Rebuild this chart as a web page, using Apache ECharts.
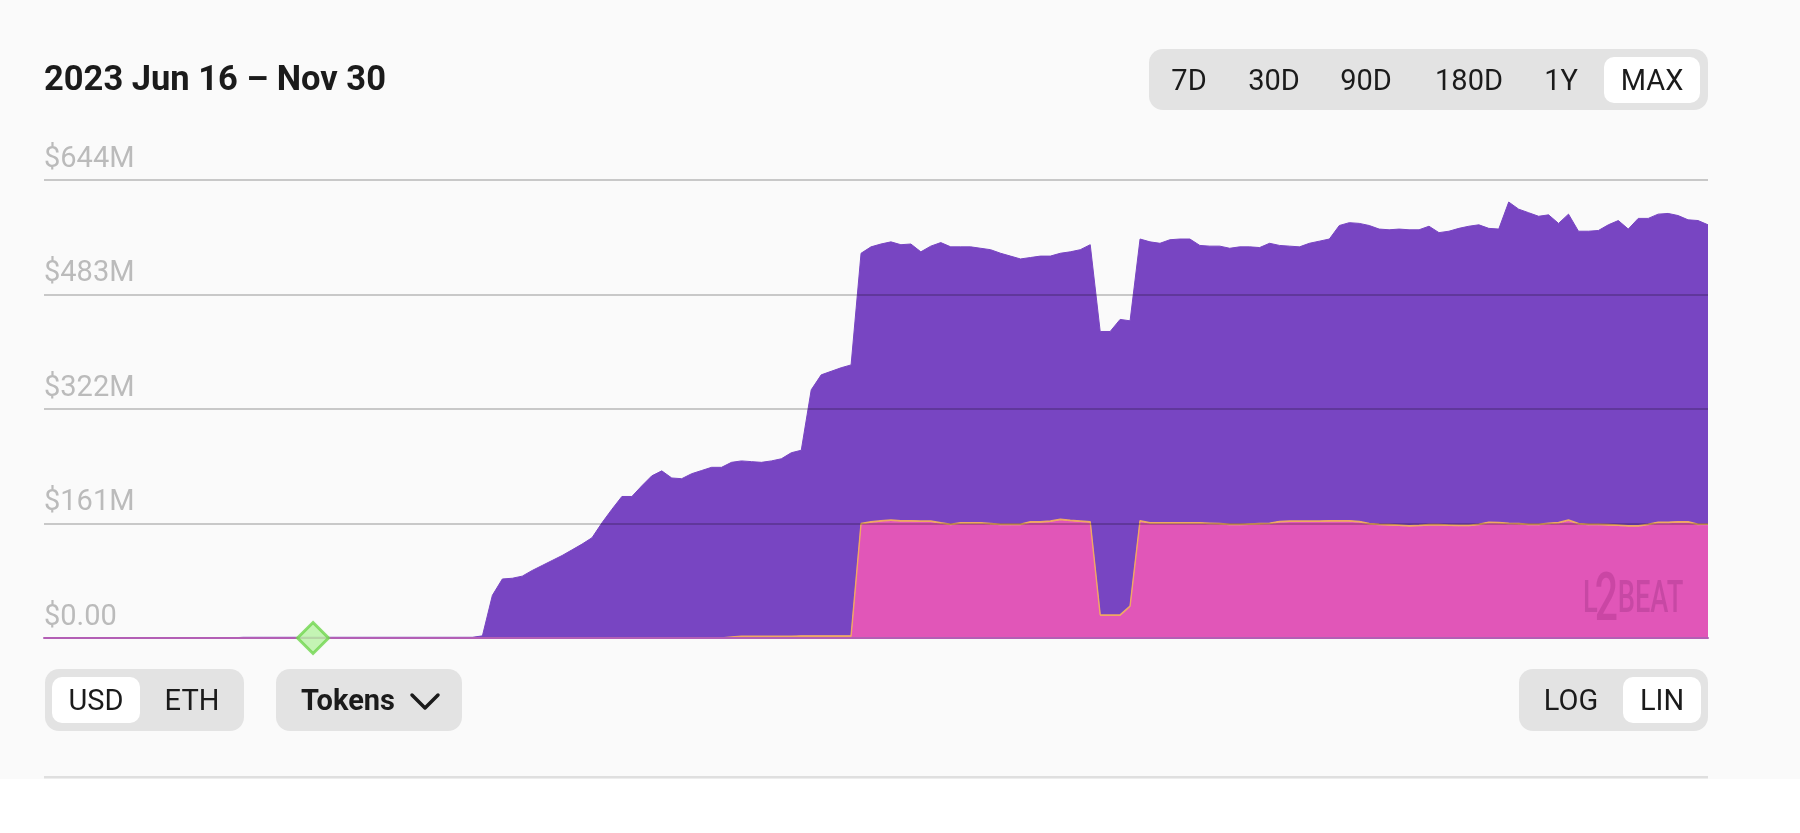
<!DOCTYPE html>
<html>
<head>
<meta charset="utf-8">
<script src="https://cdn.jsdelivr.net/npm/echarts@6/dist/echarts.min.js"></script>
<style>
  html, body { margin: 0; padding: 0; background: #ffffff; }
  #chart { width: 1800px; height: 833px; }
</style>
</head>
<body>
<div id="chart"></div>
<script>
// ---------- data (values in millions of USD, one point per day) ----------
const startDate = '2023-06-16';
const dayCount = 168; // 2023 Jun 16 – Nov 30

const yTickLabels = ['$0.00', '$161M', '$322M', '$483M', '$644M'];

// bottom layer (pink)
const nativeM = [
  0,0,0,0,0,0,0,0,0,0,0,0,0,0,
  0,0,0,0,0,0,0,0,0,0,0,0,0,0,
  0,0,0,0,0,0,0,0,0,0,0,0,0,0,
  0,0,0,0,0,0,0,0,0,0,0,0,0,0,
  0,0,0,0,0,0,0,0,0,0,0,0,0,0,
  0,0,0,0,0,0,0,0,0,0,0,0,
  159.5,162,163.5,164.5,163.5,163.5,163,163,160.5,158.5,160.5,160.5,160.5,159.5,
  158.5,158.5,158.5,162,162,163,165.5,164,163,162,31,31,31,43.5,
  163.5,160.5,160.5,160.5,160.5,160.5,160.5,160,159.5,158.5,158.5,159,159.5,160,
  162.5,163,163,163,163,163.5,163.5,163.5,162.5,159.5,158.5,158,157.5,156.5,
  157,158,158,157.5,157,157,158.5,161.5,161,160,159.5,158.5,158.5,160,
  161,164.5,159.5,158.5,158.5,158,157.5,156.5,156.5,158.5,161.5,161.5,162,162,
  158.5,158.5
];

// thin middle layer (orange)
const externalM = [
  0,0,0,0,0,0,0,0,0,0,0,0,0,0,
  0,0,0,0,0,0,0,0,0,0,0,0,0,0,
  0,0,0,0,0,0,0,0,0,0,0,0,0,0,
  0,0,0,0,0,0,0,0,0,0,0,0,0,0,
  0,0,0,0,0,0,0,0,0,0,0,0,0,1.5,
  2.5,2.5,2.5,2.5,2.5,2.5,3,3,3,3,3,3,
  1.5,1.5,1.5,1.5,1.5,1.5,1.5,1.5,1.5,1.5,1.5,1.5,1.5,1.5,
  1.5,1.5,1.5,1.5,1.5,1.5,1.5,1.5,1.5,1.5,1.5,1.5,1.5,1.5,
  1.5,1.5,1.5,1.5,1.5,1.5,1.5,1.5,1.5,1.5,1.5,1.5,1.5,1.5,
  1.5,1.5,1.5,1.5,1.5,1.5,1.5,1.5,1.5,1.5,1.5,1.5,1.5,1.5,
  1.5,1.5,1.5,1.5,1.5,1.5,1.5,1.5,1.5,1.5,1.5,1.5,1.5,1.5,
  1.5,1.5,1.5,1.5,1.5,1.5,1.5,1.5,1.5,1.5,1.5,1.5,1.5,1.5,
  1.5,1.5
];

// top layer (purple)
const canonicalM = [
  0.3,0.3,0.3,0.3,0.3,0.3,0.3,0.3,0.3,0.3,0.3,0.3,0.3,0.3,
  0.3,0.3,0.3,0.3,0.3,0.3,1,1,1,1,1,1,1,1,
  1,1,1,1,1,1,1,1,1,1,1,1,1,1,
  1,1,3,60,83,84,87,95,102,109,116,124,132,141,
  162,181,199,199,214,228,235,225,224,231,235.5,240,240,245.5,
  246.5,245.5,244.5,246.5,249.5,258,261,346,367,372,377,381,
  380,386.5,389,391,388,389,378.5,386.5,394,390,388,388,386,385,
  381,377,373,371.5,373.5,372.5,374,377.5,381.5,389.5,398.5,398.5,415.5,401,
  396,395,393,398,399,399,390,389.5,390,388,390,389.5,388,393.5,
  388,386.5,385.5,390.5,393.5,396,415,419,419,419,415,414.5,416,416,
  415.5,419.5,410.5,413,417.5,420.5,421,413,412.5,451.5,442,438,433,433.5,
  420.5,430,411,412,413,421.5,428,417,432,430,433,434,430.5,424.5,
  427,421
];

const milestoneDates = ['2023-07-13'];

// ---------- categories ----------
const categories = [];
(function () {
  const p = startDate.split('-').map(Number);
  for (let i = 0; i < dayCount; i++) {
    const d = new Date(Date.UTC(p[0], p[1] - 1, p[2] + i));
    categories.push(d.toISOString().slice(0, 10));
  }
})();

// ---------- styles ----------
const PURPLE = '#7845C2';
const PINK = '#E156B8';
const ORANGE = '#F0A862';
const FONT = 'Roboto, "Noto Sans", sans-serif';
const TXT = '#1B1B1B';
const BTN_BG = '#E3E3E3';

function btnText(x, y, t, bold) {
  return {
    type: 'text', x: x, y: y, z: 20,
    style: { text: t, font: (bold ? 'bold ' : '') + '29px ' + FONT, fill: TXT,
             textAlign: 'center', textVerticalAlign: 'middle' }
  };
}

const chart = echarts.init(document.getElementById('chart'), null, { renderer: 'canvas' });

const option = {
  backgroundColor: '#FAFAFA',
  animation: false,
  grid: { left: 44, right: 92, top: 180, bottom: 195, containLabel: false },
  xAxis: {
    type: 'category',
    data: categories,
    boundaryGap: false,
    z: 6,
    axisLine: { show: true, lineStyle: { color: '#B35FB5', width: 2 } },
    axisTick: { show: false },
    axisLabel: { show: false },
    splitLine: { show: false }
  },
  yAxis: {
    type: 'value',
    min: 0, max: 644, interval: 161,
    z: 5,
    axisLine: { show: false },
    axisTick: { show: false },
    splitLine: { show: true, lineStyle: { color: 'rgba(0,0,0,0.2)', width: 2 } },
    axisLabel: {
      inside: true,
      margin: 0,
      align: 'left',
      verticalAlign: 'bottom',
      lineHeight: 29,
      padding: [0, 0, 6, 0],
      fontSize: 29,
      fontFamily: FONT,
      color: '#BBBBBB',
      showMinLabel: true, showMaxLabel: true,
      formatter: function (v, i) { return yTickLabels[i]; }
    }
  },
  series: [
    {
      name: 'Natively minted', type: 'line', stack: 'tvl', data: nativeM,
      symbol: 'none', z: 2,
      lineStyle: { width: 1, color: PINK },
      itemStyle: { color: PINK },
      areaStyle: { color: PINK, opacity: 1 }
    },
    {
      name: 'Externally bridged', type: 'line', stack: 'tvl', data: externalM,
      symbol: 'none', z: 3,
      lineStyle: { width: 1.4, color: ORANGE },
      itemStyle: { color: ORANGE },
      areaStyle: { color: ORANGE, opacity: 1 }
    },
    {
      name: 'Canonically bridged', type: 'line', stack: 'tvl', data: canonicalM,
      symbol: 'none', z: 2,
      lineStyle: { width: 1, color: PURPLE },
      itemStyle: { color: PURPLE },
      areaStyle: { color: PURPLE, opacity: 1 }
    },
    {
      name: 'Milestone', type: 'scatter',
      data: milestoneDates.map(function (d) { return [d, 0]; }),
      symbol: 'diamond', symbolSize: 31, z: 10,
      itemStyle: { color: '#B7F3A2', borderColor: '#6FD64E', borderWidth: 3 }
    }
  ],
  graphic: [
    // title
    { type: 'text', x: 44, y: 81, z: 20,
      style: { text: '2023 Jun 16 – Nov 30', font: 'bold 34.5px ' + FONT, fill: TXT,
               textAlign: 'left', textVerticalAlign: 'middle' } },
    // range selector
    { type: 'rect', z: 19, shape: { x: 1149, y: 49, width: 559, height: 61, r: 14 }, style: { fill: BTN_BG } },
    { type: 'rect', z: 19, shape: { x: 1604, y: 57, width: 96, height: 46, r: 10 }, style: { fill: '#FFFFFF' } },
    btnText(1189, 83, '7D'), btnText(1274, 83, '30D'), btnText(1366, 83, '90D'),
    btnText(1469, 83, '180D'), btnText(1561, 83, '1Y'), btnText(1652, 83, 'MAX'),
    // currency selector
    { type: 'rect', z: 19, shape: { x: 45, y: 669, width: 199, height: 62, r: 14 }, style: { fill: BTN_BG } },
    { type: 'rect', z: 19, shape: { x: 52, y: 677, width: 88, height: 46, r: 10 }, style: { fill: '#FFFFFF' } },
    btnText(96, 703, 'USD'), btnText(192, 703, 'ETH'),
    // tokens
    { type: 'rect', z: 19, shape: { x: 276, y: 669, width: 186, height: 62, r: 14 }, style: { fill: BTN_BG } },
    btnText(348, 703, 'Tokens', true),
    { type: 'polyline', z: 20, shape: { points: [[412, 695], [425, 708], [438, 695]] },
      style: { stroke: TXT, lineWidth: 3.5, fill: null, lineCap: 'round', lineJoin: 'round' } },
    // scale selector
    { type: 'rect', z: 19, shape: { x: 1519, y: 669, width: 189, height: 62, r: 14 }, style: { fill: BTN_BG } },
    { type: 'rect', z: 19, shape: { x: 1623, y: 677, width: 78, height: 46, r: 10 }, style: { fill: '#FFFFFF' } },
    btnText(1571, 703, 'LOG'), btnText(1662, 703, 'LIN'),
    // bottom divider
    { type: 'rect', z: 19, shape: { x: 44, y: 776, width: 1664, height: 2.5 }, style: { fill: '#DFDFDF' } },
    { type: 'rect', z: 1, shape: { x: 0, y: 779, width: 1800, height: 60 }, style: { fill: '#FFFFFF' } },
    // watermark
    { type: 'group', x: 1583, y: 601, scaleX: 0.62, z: 8,
      children: [
        { type: 'text', x: 0, y: 0, z: 8, style: { text: 'L', font: '500 44px ' + FONT, fill: 'rgba(70,0,60,0.16)', textAlign: 'left', textVerticalAlign: 'middle' } },
        { type: 'text', x: 19, y: 2, z: 8, style: { text: '2', font: '500 66px ' + FONT, fill: 'rgba(100,0,80,0.18)', textAlign: 'left', textVerticalAlign: 'middle' } },
        { type: 'text', x: 56, y: 0, z: 8, style: { text: 'BEAT', font: '500 44px ' + FONT, fill: 'rgba(70,0,60,0.16)', textAlign: 'left', textVerticalAlign: 'middle' } }
      ] }
  ]
};

chart.setOption(option);
</script>
</body>
</html>
